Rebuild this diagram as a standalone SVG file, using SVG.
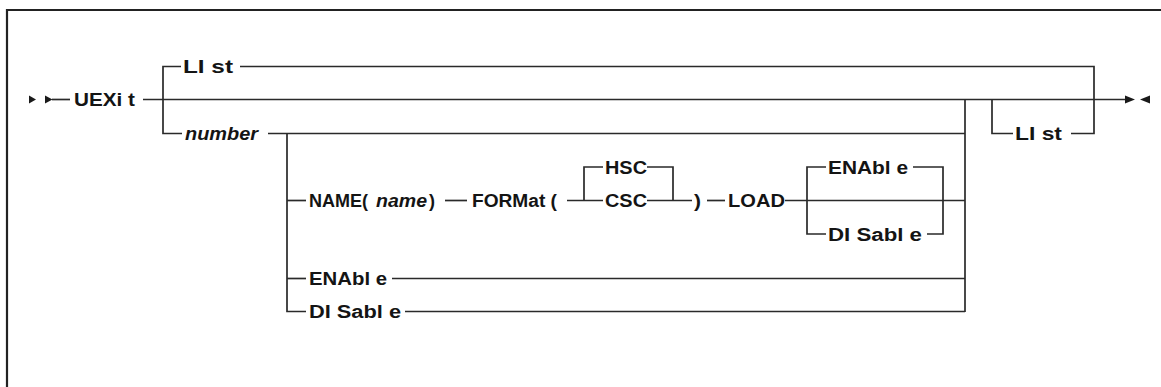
<svg xmlns="http://www.w3.org/2000/svg" width="1161" height="387" viewBox="0 0 1161 387">
<style>
.ln{fill:none;stroke:#2a2a2a;stroke-width:1.7;stroke-linecap:butt;stroke-linejoin:miter}
.fr{fill:none;stroke:#222;stroke-width:2.2}
.t{font-family:"Liberation Sans",Arial,sans-serif;font-weight:bold;font-size:18px;fill:#141414}
.i{font-style:italic}
.ah{fill:#1a1a1a}
</style>
<rect width="1161" height="387" fill="#fff"/>
<path class="fr" d="M7,390 V10 H1165"/>
<g id="connectors">
<path class="ah" d="M29,95.5 L36,99.5 L29,103.5 Z"/>
<path class="ah" d="M45,95.5 L52.5,99.5 L45,103.5 Z"/>
<path class="ln" d="M52,99.5 H70"/>
<path class="ln" d="M143,99.5 H1125"/>
<path class="ah" d="M1125,95.5 L1135,99.5 L1125,103.5 Z"/>
<path class="ah" d="M1150,95.5 L1140,99.5 L1150,103.5 Z"/>
<path class="ln" d="M181,66.5 H163 V133.5 H182"/>
<path class="ln" d="M240,66.5 H1094 V133.5 H1071"/>
<path class="ln" d="M1013,133.5 H992 V99.5"/>
<path class="ln" d="M268,133.5 H965"/>
<path class="ln" d="M965,99.5 V312"/>
<path class="ln" d="M287,133.5 V311.5 H306"/>
<path class="ln" d="M287,200.5 H306"/>
<path class="ln" d="M287,278.5 H306"/>
<path class="ln" d="M392,278.5 H965"/>
<path class="ln" d="M405,311.5 H965"/>
<path class="ln" d="M445,200.5 H467"/>
<path class="ln" d="M567,200.5 H603"/>
<path class="ln" d="M603,167 H584 V200.5"/>
<path class="ln" d="M647,167 H673 V200.5"/>
<path class="ln" d="M647,200.5 H692"/>
<path class="ln" d="M707,200.5 H725"/>
<path class="ln" d="M785,200.5 H965"/>
<path class="ln" d="M826,167 H807 V234 H826"/>
<path class="ln" d="M913,167 H943 V234 H927"/>
</g>
<g id="n-uexit"><text class="t" x="74" y="106" textLength="61" lengthAdjust="spacingAndGlyphs">UEXi t</text></g>
<g id="n-list-top"><text class="t" x="183" y="73" textLength="50" lengthAdjust="spacingAndGlyphs">LI st</text></g>
<g id="n-number"><text class="t i" x="185" y="140" textLength="73" lengthAdjust="spacingAndGlyphs">number</text></g>
<g id="n-list-right"><text class="t" x="1015" y="140" textLength="47" lengthAdjust="spacingAndGlyphs">LI st</text></g>
<g id="n-name"><text class="t" y="207"><tspan x="309" textLength="59" lengthAdjust="spacingAndGlyphs">NAME(</tspan><tspan class="i" x="376" textLength="51" lengthAdjust="spacingAndGlyphs">name</tspan><tspan x="429" textLength="6" lengthAdjust="spacingAndGlyphs">)</tspan></text></g>
<g id="n-format"><text class="t" x="472" y="207" textLength="85" lengthAdjust="spacingAndGlyphs">FORMat (</text></g>
<g id="n-hsc"><text class="t" x="605" y="173.5" textLength="42" lengthAdjust="spacingAndGlyphs">HSC</text></g>
<g id="n-csc"><text class="t" x="605" y="207" textLength="42" lengthAdjust="spacingAndGlyphs">CSC</text></g>
<g id="n-paren"><text class="t" x="694" y="207" textLength="7" lengthAdjust="spacingAndGlyphs">)</text></g>
<g id="n-load"><text class="t" x="728" y="207" textLength="57" lengthAdjust="spacingAndGlyphs">LOAD</text></g>
<g id="n-load-enable"><text class="t" x="828" y="173.5" textLength="80" lengthAdjust="spacingAndGlyphs">ENAbl e</text></g>
<g id="n-load-disable"><text class="t" x="828" y="240.5" textLength="94" lengthAdjust="spacingAndGlyphs">DI Sabl e</text></g>
<g id="n-enable"><text class="t" x="309" y="285" textLength="78" lengthAdjust="spacingAndGlyphs">ENAbl e</text></g>
<g id="n-disable"><text class="t" x="309" y="318" textLength="92" lengthAdjust="spacingAndGlyphs">DI Sabl e</text></g>
</svg>
